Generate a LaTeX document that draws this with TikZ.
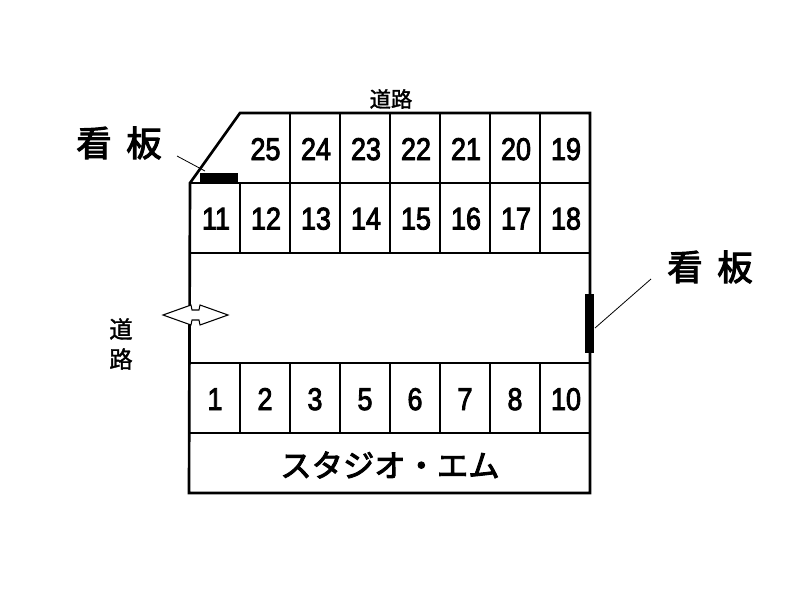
\documentclass[tikz,border=0pt]{standalone}
\usepackage{fontspec}
\newfontfamily\cjk[FakeBold=3]{Noto Sans CJK JP}
\newfontfamily\cjklight[FakeBold=1.5]{Noto Sans CJK JP}
\newfontfamily\digitfont[FakeBold=3]{Liberation Sans}
\tikzset{
  px/.style={x=0.75pt,y=-0.75pt},
  wall/.style={line width=2pt,black},
  thinline/.style={line width=1pt,black},
  leader/.style={line width=0.6pt,black},
  signboard/.style={fill=black,draw=none},
  num/.style={inner sep=0pt,anchor=base,font=\digitfont\fontsize{23.5}{24}\selectfont,xscale=0.86,text=black},
  biglabel/.style={inner sep=0pt,font=\cjk\fontsize{26.5}{27}\selectfont},
  roadlabel/.style={inner sep=0pt,font=\cjklight\fontsize{16}{16}\selectfont},
  roadlabelbig/.style={inner sep=0pt,font=\cjklight\fontsize{17.5}{18}\selectfont},
  studio/.style={inner sep=0pt,font=\cjk\fontsize{23.5}{24}\selectfont},
}
\begin{document}
\begin{tikzpicture}[px]
\path[use as bounding box,fill=white] (0,0) rectangle (800,600);
% stall lines
\foreach \x in {290,340,...,540} \draw[thinline] (\x,113) -- (\x,253);
\draw[thinline] (240,183) -- (240,253);
\foreach \x in {240,290,...,540} \draw[thinline] (\x,363) -- (\x,433);
\draw[thinline] (190,183) -- (590,183);
\draw[thinline] (190,253) -- (590,253);
\draw[thinline] (190,363) -- (590,363);
% outer wall
\draw[wall,line join=miter] (240,113) -- (590,113) -- (590,493) -- (189,493) -- (190,183) -- cycle;
\draw[line width=1.8pt] (190,433) -- (590,433);
% entrance arrow
\draw[line width=0.8pt,fill=white,line join=miter]
  (163,315) -- (191,305) -- (192,310) -- (199,310) -- (200,305) -- (228,315)
  -- (200,325) -- (199,320) -- (192,320) -- (191,325) -- cycle;
% signs
\node[signboard,minimum width=28.5pt,minimum height=7.5pt,inner sep=0pt] (signtop) at (219,178) {};
\node[signboard,minimum width=7pt,minimum height=44.25pt,inner sep=0pt] (signright) at (589.5,323.5) {};
\node[biglabel] (kanA1) at (94,143) {看};
\node[biglabel] (kanA2) at (144,143) {板};
\node[biglabel] (kanB1) at (685,267) {看};
\node[biglabel] (kanB2) at (735,267) {板};
\coordinate (leadA) at (177,156);
\coordinate (leadAend) at (205,171);
\coordinate (leadB) at (651,279);
\coordinate (leadBend) at (595,328);
\draw[leader] (leadA) -- (leadAend);
\draw[leader] (leadB) -- (leadBend);
% numbers
\foreach \n/\x in {25/265.5,24/316,23/366,22/416,21/466,20/516,19/566}
  \node[num] (n\n) at (\x,160) {\n};
\foreach \n/\x in {11/216,12/266,13/316,14/366,15/416,16/466,17/516,18/566}
  \node[num] (n\n) at (\x,229.5) {\n};
\foreach \n/\x in {1/215,2/265,3/315,5/365,6/415,7/465,8/515,10/566}
  \node[num] (n\n) at (\x,410) {\n};
% labels
\node[roadlabel] (roadtop) at (391,99) {道路};
\node[roadlabelbig] (road1) at (121,329) {道};
\node[roadlabelbig] (road2) at (121,359) {路};
\node[studio] (studio) at (390,465) {スタジオ・エム};
\end{tikzpicture}
\end{document}
